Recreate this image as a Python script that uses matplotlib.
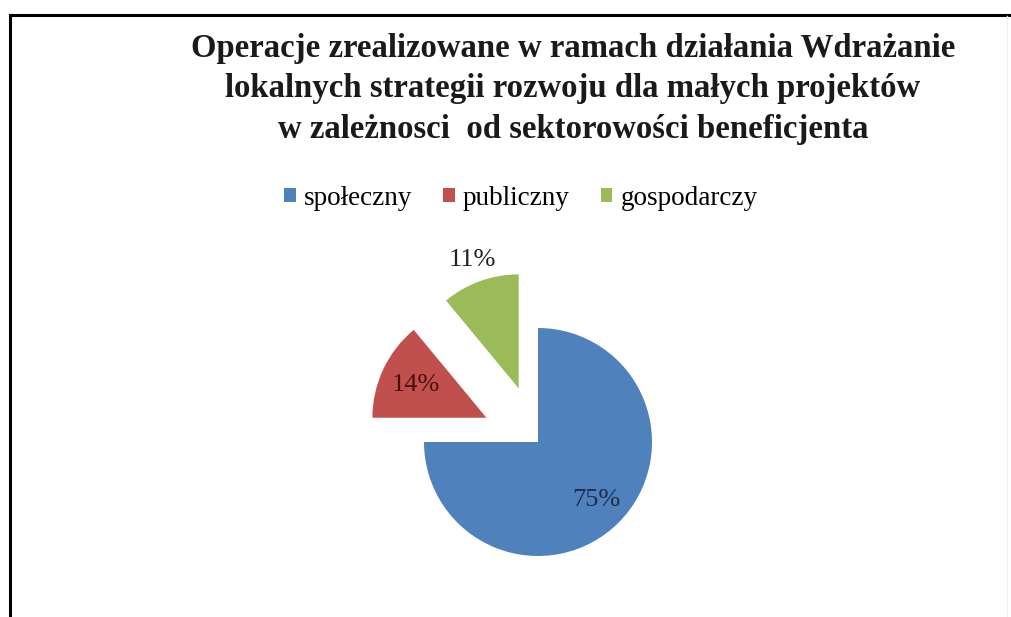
import numpy as np
import matplotlib
matplotlib.use("Agg")
import matplotlib.pyplot as plt
from matplotlib.lines import Line2D

categories = ["społeczny", "publiczny", "gospodarczy"]
values = [75, 14, 11]
pct_labels = ["75%", "14%", "11%"]
colors = ["#4F81BD", "#C0504D", "#9BBB59"]
explode = [0.0, 0.5, 0.5]
title = ("Operacje zrealizowane w ramach działania Wdrażanie\n"
         "lokalnych strategii rozwoju dla małych projektów\n"
         "w zależnosci  od sektorowości beneficjenta")

W, H = 1011, 617
fig = plt.figure(figsize=(W / 100, H / 100), dpi=100)
fig.patch.set_facecolor("white")

serif = ["Liberation Serif", "DejaVu Serif"]

# pie axes covering the whole figure; data units = pie radius
R = 114.0
cx, cy = 538.0, 442.0
ax = fig.add_axes([0, 0, 1, 1])
wedges, _ = ax.pie(values, colors=colors, explode=explode, startangle=90,
                   counterclock=False, radius=1.0,
                   wedgeprops=dict(linewidth=0))
ax.set_xlim(-cx / R, (W - cx) / R)
ax.set_ylim(-(H - cy) / R, cy / R)
ax.set_aspect("equal")
ax.axis("off")

label_dist = [0.72, 0.68, 1.2]
label_colors = ["#1F2D4A", "#4A1010", "#222222"]
for w, lab, d, c in zip(wedges, pct_labels, label_dist, label_colors):
    ang = np.deg2rad((w.theta1 + w.theta2) / 2)
    x = w.center[0] + d * w.r * np.cos(ang)
    y = w.center[1] + d * w.r * np.sin(ang)
    ax.text(x, y, lab, ha="center", va="center", fontsize=19,
            family=serif, color=c)

leg = fig.legend(wedges, categories, loc="center", ncol=3,
                 bbox_to_anchor=(521 / W, 1 - 198 / H), frameon=False,
                 prop=dict(family=serif, size=19.5), handlelength=0.42,
                 handleheight=0.42, handletextpad=0.3, columnspacing=1.15,
                 borderaxespad=0, borderpad=0)

fig.text(573 / W, 1 - 89 / H, title, ha="center", va="center",
         multialignment="center", fontsize=23.6, fontweight="bold",
         family=serif, linespacing=1.38, color="#1a1a1a")

# frame lines (top and left)
fig.add_artist(Line2D([10 / W, 1.0], [1 - 15 / H, 1 - 15 / H],
                      transform=fig.transFigure, color="black", lw=2.2))
fig.add_artist(Line2D([10 / W, 10 / W], [0, 1 - 15 / H],
                      transform=fig.transFigure, color="black", lw=2.2))
fig.add_artist(Line2D([1007 / W, 1007 / W], [0, 1 - 16 / H],
                      transform=fig.transFigure, color="#f0f0f0", lw=1))

fig.savefig("out.png", dpi=100, facecolor="white")
